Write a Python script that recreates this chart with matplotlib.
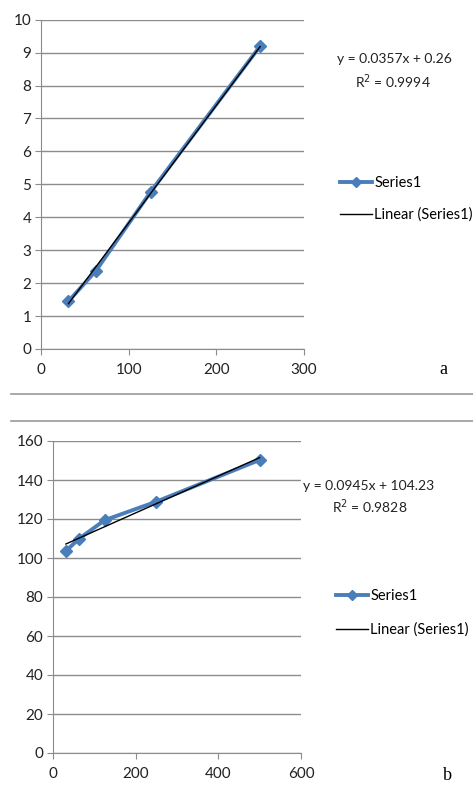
import numpy as np
import matplotlib
matplotlib.use("Agg")
import matplotlib.pyplot as plt
from matplotlib.lines import Line2D

plt.rcParams['font.family'] = ['Lato', 'DejaVu Sans']

# chart a
x_a = [31.25, 62.5, 125, 250]
y_a = [1.45, 2.37, 4.77, 9.2]
slope_a, icpt_a = 0.0357, 0.26
eq_a = "y = 0.0357x + 0.26"
r2_a = "R$^2$ = 0.9994"

# chart b
x_b = [31.25, 62.5, 125, 250, 500]
y_b = [103.6, 109.8, 119.4, 128.9, 150.3]
slope_b, icpt_b = 0.0945, 104.23
eq_b = "y = 0.0945x + 104.23"
r2_b = "R$^2$ = 0.9828"

blue = '#4a7ebb'
grid = '#8c8c8c'
W, H = 473, 785

fig = plt.figure(figsize=(W / 100, H / 100), dpi=100)


def px(x0, y_top, x1, y_bot):
    # pixel box -> figure fraction
    return [x0 / W, 1 - y_bot / H, (x1 - x0) / W, (y_bot - y_top) / H]


def draw(ax, xs, ys, slope, icpt, xmax, ymax, ystep, xstep):
    xs = np.array(xs)
    ax.plot(xs, ys, color=blue, lw=2.8, marker='D', ms=6.5, mec=blue, mfc=blue,
            label='Series1', zorder=3)
    xl = np.array([xs.min(), xs.max()])
    ax.plot(xl, slope * xl + icpt, color='black', lw=1.0, label='Linear (Series1)', zorder=4)
    ax.set_xlim(0, xmax)
    ax.set_ylim(0, ymax)
    ax.set_xticks(np.arange(0, xmax + 1, xstep))
    ax.set_yticks(np.arange(0, ymax + 1, ystep))
    ax.yaxis.grid(True, color=grid, lw=1.0)
    ax.set_axisbelow(True)
    for s in ['top', 'right']:
        ax.spines[s].set_visible(False)
    for s in ['left', 'bottom']:
        ax.spines[s].set_color(grid)
    ax.tick_params(direction='out', length=4, color=grid, labelsize=11,
                   labelcolor='#222222', pad=3)
    ax.tick_params(axis='x', pad=6)


ax1 = fig.add_axes(px(41, 19.7, 304, 349))
draw(ax1, x_a, y_a, slope_a, icpt_a, 300, 10, 1, 100)
ax2 = fig.add_axes(px(53, 441, 301, 753))
draw(ax2, x_b, y_b, slope_b, icpt_b, 600, 160, 20, 200)

fs = 10
fig.text(394 / W, 1 - 59 / H, eq_a, ha='center', va='center', fontsize=fs, color='#222222')
fig.text(393 / W, 1 - 82 / H, r2_a, ha='center', va='center', fontsize=fs, color='#222222')
fig.text(369 / W, 1 - 486 / H, eq_b, ha='center', va='center', fontsize=fs, color='#222222')
fig.text(370 / W, 1 - 507 / H, r2_b, ha='center', va='center', fontsize=fs, color='#222222')

for ax, (lx, ly), sp in [(ax1, (340, 176), 1.2), (ax2, (336, 589), 1.35)]:
    ax.legend(loc='upper left', bbox_to_anchor=(lx / W, 1 - ly / H),
              bbox_transform=fig.transFigure, frameon=False, fontsize=10.5,
              handlelength=2.2, handletextpad=0.15, labelspacing=sp,
              borderpad=0, borderaxespad=0, numpoints=1, markerscale=0.8)

fig.text(443 / W, 1 - 369 / H, 'a', family='Liberation Serif', fontsize=13,
         ha='center', va='center')
fig.text(447 / W, 1 - 775 / H, 'b', family='Liberation Serif', fontsize=13,
         ha='center', va='center')

for yy in [394, 421]:
    fig.add_artist(Line2D([11 / W, 1], [1 - yy / H, 1 - yy / H], color='#9a9a9a', lw=1.2))

fig.savefig('out.png', dpi=100)
